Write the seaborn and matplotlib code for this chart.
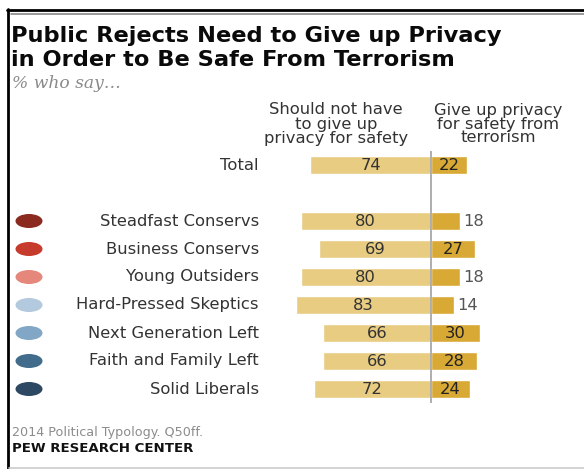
import matplotlib
matplotlib.use("Agg")
import matplotlib.pyplot as plt
from matplotlib.patches import Ellipse
from matplotlib.lines import Line2D
import seaborn as sns
import pandas as pd

# ---- data ----
groups = ["Total", "", "Steadfast Conservs", "Business Conservs", "Young Outsiders",
          "Hard-Pressed Skeptics", "Next Generation Left", "Faith and Family Left",
          "Solid Liberals"]
should_not = [74, None, 80, 69, 80, 83, 66, 66, 72]
give_up = [22, None, 18, 27, 18, 14, 30, 28, 24]
dot_colors = [None, None, "#8B2A1F", "#C63B2C", "#E5877A", "#B3C9DD", "#82A6C5", "#416C8C", "#2C4862"]
header_left = ["Should not have", "to give up", "privacy for safety"]
header_right = ["Give up privacy", "for safety from", "terrorism"]
title_lines = ["Public Rejects Need to Give up Privacy", "in Order to Be Safe From Terrorism"]
subtitle = "% who say\u2026"
source = "2014 Political Typology. Q50ff."
org = "PEW RESEARCH CENTER"

LEFT_C = "#E8CC82"
RIGHT_C = "#D8A934"

sns.set_theme(style="white")
plt.rcParams['font.family'] = ['DejaVu Sans']

W, H = 584, 469
fig = plt.figure(figsize=(W / 100, H / 100), dpi=100)

def fx(px):
    return px / W

def fy(py):
    return 1 - py / H

# axes: x pixel 280..560, y pixel 151..403
ax_l, ax_r, ax_t, ax_b = 280, 560, 151, 403
ax = fig.add_axes([fx(ax_l), fy(ax_b), (ax_r - ax_l) / W, (ax_b - ax_t) / H])
ppu = 1.63
zero_px = 431
xmin = -(zero_px - ax_l) / ppu
xmax = (ax_r - zero_px) / ppu

rows = [(g, s, r) for g, s, r in zip(groups, should_not, give_up) if g != ""]
df = pd.DataFrame(rows, columns=["group", "should_not", "give_up"])
df["neg"] = -df["should_not"]

sns.barplot(data=df, y="group", x="neg", order=groups, color=LEFT_C, saturation=1,
            width=0.62, ax=ax, orient="h")
sns.barplot(data=df, y="group", x="give_up", order=groups, color=RIGHT_C, saturation=1,
            width=0.62, ax=ax, orient="h")
ax.set_xlim(xmin, xmax)
ax.set_ylim(len(groups) - 0.5, -0.5)
ax.axis("off")
ax.axvline(0, color="#A8A8A8", lw=1.3, zorder=5)

label_font = 11.8
num_font = 11.8
for i, (g, s, r) in enumerate(zip(groups, should_not, give_up)):
    if g == "":
        continue
    ax.text(-s / 2, i, f"{s}", ha="center", va="center", fontsize=num_font, color="#333333")
    if r >= 20:
        ax.text(r / 2, i, f"{r}", ha="center", va="center", fontsize=num_font, color="#222222",
                zorder=6)
    else:
        ax.text(r + 2.0, i, f"{r}", ha="left", va="center", fontsize=num_font, color="#555555")
    ypix = ax_t + (i + 0.5) * (ax_b - ax_t) / len(groups)
    fig.text(fx(259), fy(ypix), g, ha="right", va="center", fontsize=label_font, color="#333333")

# dots
dax = fig.add_axes([0, fy(ax_b), 1, (ax_b - ax_t) / H])
dax.set_xlim(0, W)
dax.set_ylim(len(groups) - 0.5, -0.5)
dax.axis("off")
row_px = (ax_b - ax_t) / len(groups)
for i, c in enumerate(dot_colors):
    if c is None:
        continue
    dax.add_patch(Ellipse((29, i), 27, 14 / row_px, color=c, lw=0))

# titles
fig.text(fx(11), fy(42), title_lines[0], ha="left", va="baseline", fontsize=16.2,
         fontweight="bold", color="#0A0A0A")
fig.text(fx(11), fy(66.5), title_lines[1], ha="left", va="baseline", fontsize=16.2,
         fontweight="bold", color="#0A0A0A")
fig.text(fx(12), fy(83), subtitle, ha="left", va="center", fontsize=12.3, style="italic",
         family="DejaVu Serif", color="#8A8A8A")
for k, (a, b) in enumerate(zip(header_left, header_right)):
    yy = 110 + 14 * k
    fig.text(fx(336), fy(yy), a, ha="center", va="center", fontsize=label_font, color="#333333")
    fig.text(fx(498), fy(yy), b, ha="center", va="center", fontsize=label_font, color="#333333")
fig.text(fx(12), fy(432), source, ha="left", va="center", fontsize=9.2, color="#8C8C8C")
fig.text(fx(12), fy(448), org, ha="left", va="center", fontsize=9.6, fontweight="bold",
         color="#111111")

# frame lines
fig.add_artist(Line2D([fx(7), 1], [fy(10), fy(10)], color="black", lw=2))
fig.add_artist(Line2D([fx(11), 1], [fy(14.5), fy(14.5)], color="#888888", lw=1.2))
fig.add_artist(Line2D([fx(8), fx(8)], [fy(9), 0], color="black", lw=2))
fig.add_artist(Line2D([fx(9), 1], [fy(467.5), fy(467.5)], color="#CCCCCC", lw=1.2))

fig.savefig("out.png", dpi=100)
